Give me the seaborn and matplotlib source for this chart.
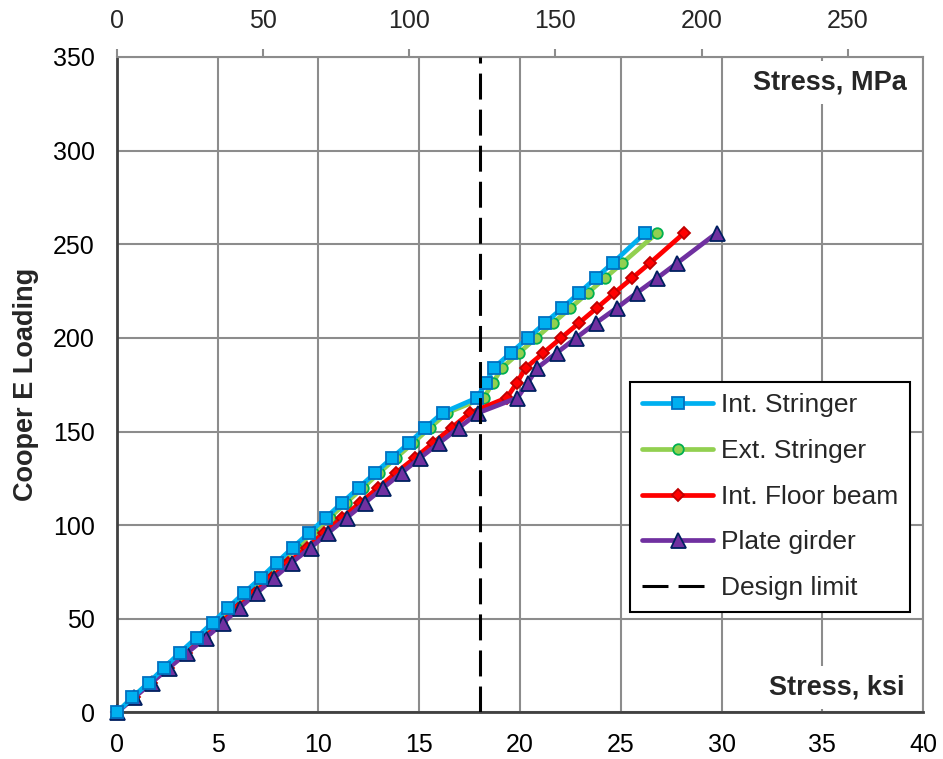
import numpy as np
import pandas as pd
import matplotlib
matplotlib.use("Agg")
import matplotlib.pyplot as plt
import seaborn as sns

# ---------------- data ----------------
loads = [0, 8, 16, 24, 32, 40, 48, 56, 64, 72, 80, 88, 96, 104, 112, 120, 128,
         136, 144, 152, 160, 168, 176, 184, 192, 200, 208, 216, 224, 232, 240, 256]

int_stringer = [0, 0.76, 1.59, 2.35, 3.13, 3.95, 4.75, 5.52, 6.32, 7.15, 7.93, 8.72,
                9.54, 10.37, 11.17, 12.0, 12.82, 13.65, 14.51, 15.3, 16.16,
                17.87, 18.3, 18.7, 19.54, 20.4, 21.24, 22.1, 22.93, 23.76, 24.6, 26.2]

ext_stringer = [0, 0.78, 1.62, 2.42, 3.22, 4.05, 4.86, 5.66, 6.48, 7.3, 8.1, 8.9,
                9.72, 10.55, 11.37, 12.2, 13.02, 13.85, 14.7, 15.52, 16.38,
                18.2, 18.65, 19.1, 19.95, 20.8, 21.65, 22.5, 23.36, 24.22, 25.08, 26.8]

int_floor_beam = [0, 0.84, 1.69, 2.55, 3.43, 4.33, 5.17, 5.98, 6.82, 7.65, 8.5, 9.42,
                  10.28, 11.17, 12.07, 12.96, 13.85, 14.79, 15.7, 16.6, 17.52,
                  19.34, 19.84, 20.28, 21.16, 22.04, 22.93, 23.81, 24.68, 25.57, 26.45, 28.14]

plate_girder = [0, 0.86, 1.72, 2.6, 3.5, 4.42, 5.28, 6.1, 6.96, 7.81, 8.67, 9.61,
                10.49, 11.4, 12.31, 13.22, 14.13, 15.05, 16.0, 16.96, 17.93,
                19.87, 20.38, 20.86, 21.82, 22.78, 23.77, 24.8, 25.79, 26.81, 27.8, 29.76]

design_limit = 18.0           # ksi
series_names = ["Int. Stringer", "Ext. Stringer", "Int. Floor beam", "Plate girder"]
x_ticks_ksi = [0, 5, 10, 15, 20, 25, 30, 35, 40]
x_ticks_mpa = [0, 50, 100, 150, 200, 250]
y_ticks = [0, 50, 100, 150, 200, 250, 300, 350]
KSI_TO_MPA = 6.894757

# ---------------- style ----------------
sns.set_style("white")
plt.rcParams["font.family"] = ["Liberation Sans", "DejaVu Sans"]

fig = plt.figure(figsize=(9.43, 7.59), dpi=100)
ax = fig.add_axes([0.124, 0.0613, 0.855, 0.8637])

styles = {
    "Int. Stringer":   dict(color="#00B0F0", marker="s", ms=8.0, mfc="#00B0F0", mec="#0070C0", z=6.5),
    "Ext. Stringer":   dict(color="#92D050", marker="o", ms=7.6, mfc="#92D050", mec="#00B050", z=3),
    "Int. Floor beam": dict(color="#FF0000", marker="D", ms=6.4, mfc="#FF0000", mec="#C00000", z=5),
    "Plate girder":    dict(color="#7030A0", marker="^", ms=10.8, mfc="#7030A0", mec="#002060", z=6),
}
values = {"Int. Stringer": int_stringer, "Ext. Stringer": ext_stringer,
          "Int. Floor beam": int_floor_beam, "Plate girder": plate_girder}

for name in series_names:
    st = styles[name]
    df = pd.DataFrame({"stress": values[name], "load": loads})
    sns.lineplot(data=df, x="stress", y="load", ax=ax, sort=False, estimator=None,
                 color=st["color"], lw=3.4, marker=st["marker"], markersize=st["ms"],
                 markerfacecolor=st["mfc"], markeredgecolor=st["mec"], markeredgewidth=1.3,
                 label=name, zorder=st["z"], clip_on=False)

ax.axvline(design_limit, color="black", lw=2.2, dashes=(8.5, 3.3), label="Design limit", zorder=7)

# axes ranges / ticks
ax.set_xlim(0, 40)
ax.set_ylim(0, 350)
ax.set_xticks(x_ticks_ksi)
ax.set_yticks(y_ticks)
ax.tick_params(axis="both", length=0, labelsize=18, colors="black")
ax.tick_params(axis="x", pad=15)
ax.tick_params(axis="y", pad=16)
ax.set_xlabel("")
ax.grid(True, color="#8C8C8C", lw=1.5)
ax.set_axisbelow(True)

for side in ["top", "right"]:
    ax.spines[side].set_color("#8C8C8C")
    ax.spines[side].set_linewidth(1.5)
for side in ["left", "bottom"]:
    ax.spines[side].set_color("#404040")
    ax.spines[side].set_linewidth(2)

# secondary top axis in MPa
sec = ax.secondary_xaxis("top", functions=(lambda k: k * KSI_TO_MPA, lambda m: m / KSI_TO_MPA))
sec.set_xticks(x_ticks_mpa)
sec.tick_params(axis="x", direction="out", length=6, width=1.5, color="#8C8C8C",
                labelsize=18, pad=11)
sec.spines["top"].set_visible(False)

ax.set_ylabel("Cooper E Loading", fontsize=19.5, fontweight="bold")
ax.yaxis.set_label_coords(-0.097, 0.5)

box = dict(facecolor="white", edgecolor="none", pad=6)
ax.text(0.980, 0.950, "Stress, MPa", transform=ax.transAxes, ha="right", va="baseline",
        fontsize=19.5, fontweight="bold", bbox=box, zorder=8)
ax.text(0.977, 0.028, "Stress, ksi", transform=ax.transAxes, ha="right", va="baseline",
        fontsize=19.5, fontweight="bold", bbox=box, zorder=8)

leg = ax.legend(loc="upper left", bbox_to_anchor=(0.6365, 0.5047), borderaxespad=0,
                fontsize=19, frameon=True, fancybox=False, framealpha=1,
                edgecolor="black", handlelength=2.7, handletextpad=0.3,
                labelspacing=0.82, borderpad=0.45)
leg.get_frame().set_linewidth(1.5)
leg.set_zorder(10)

fig.savefig("out.png", dpi=100)
